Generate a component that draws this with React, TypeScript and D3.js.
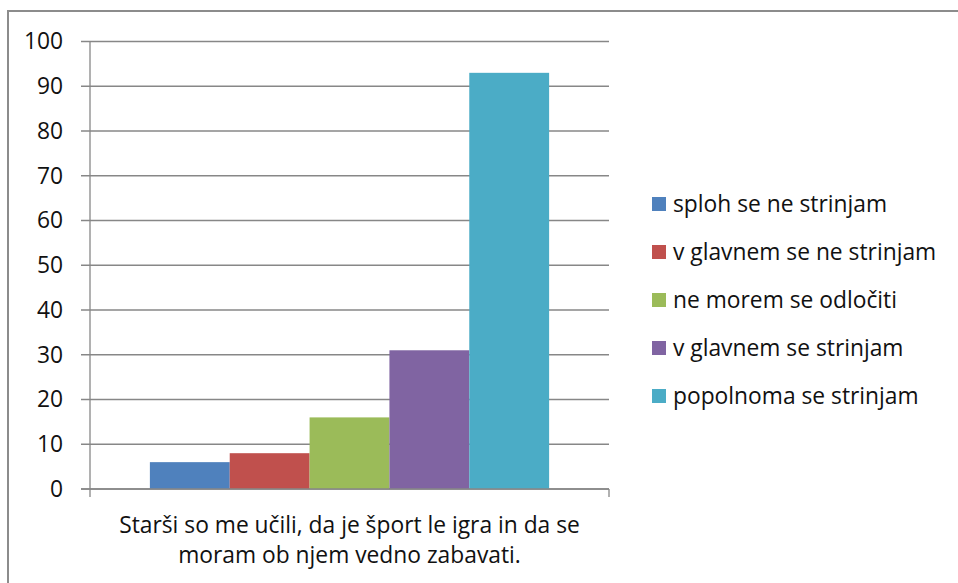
import React, { useEffect, useRef } from "react";
import * as d3 from "d3";

// chart data
const category = "Starši so me učili, da je šport le igra in da se moram ob njem vedno zabavati.";
const categoryLines = ["Starši so me učili, da je šport le igra in da se", "moram ob njem vedno zabavati."];
const seriesNames = [
  "sploh se ne strinjam",
  "v glavnem se ne strinjam",
  "ne morem se odločiti",
  "v glavnem se strinjam",
  "popolnoma se strinjam",
];
const seriesValues = [6, 8, 16, 31, 93];
const seriesColors = ["#4F81BD", "#C0504D", "#9BBB59", "#8064A2", "#4BACC6"];
const yTicks = [0, 10, 20, 30, 40, 50, 60, 70, 80, 90, 100];

const FONT = "'Open Sans', 'Noto Sans', sans-serif";
const FS = 22.8;

export default function App() {
  const svgRef = useRef<SVGSVGElement>(null);

  useEffect(() => {
    const W = 958, H = 583;
    const plot = { left: 90, right: 609, top: 41.5, bottom: 489 };

    const svg = d3.select(svgRef.current).attr("width", W).attr("height", H);
    svg.selectAll("*").remove();

    // outer chart border (only top and left are inside the picture)
    svg.append("rect")
      .attr("x", 8).attr("y", 11)
      .attr("width", W + 20).attr("height", H + 20)
      .attr("fill", "#fff")
      .attr("stroke", "#8c8c8c")
      .attr("stroke-width", 2);

    const y = d3.scaleLinear().domain([0, 100]).range([plot.bottom, plot.top]);
    const x0 = d3.scaleBand().domain([category]).range([plot.left, plot.right]);
    const x1 = d3.scaleBand()
      .domain(seriesNames)
      .range([0, x0.bandwidth()])
      .paddingInner(0)
      .paddingOuter(0.75);

    const g = svg.append("g");

    // gridlines + ticks
    g.selectAll(".grid")
      .data(yTicks)
      .join("line")
      .attr("class", "grid")
      .attr("x1", plot.left - 9)
      .attr("x2", plot.right)
      .attr("y1", (d) => y(d))
      .attr("y2", (d) => y(d))
      .attr("stroke", "#878787")
      .attr("stroke-width", 1.3);

    g.selectAll(".ylab")
      .data(yTicks)
      .join("text")
      .attr("class", "ylab")
      .attr("x", 63)
      .attr("y", (d) => y(d))
      .attr("dy", "0.35em")
      .attr("text-anchor", "end")
      .attr("font-family", FONT)
      .attr("font-size", FS)
      .attr("fill", "#111")
      .text((d) => d);

    // bars
    g.selectAll(".bar")
      .data(seriesValues)
      .join("rect")
      .attr("class", "bar")
      .attr("x", (d, i) => x0(category)! + x1(seriesNames[i])!)
      .attr("y", (d) => y(d))
      .attr("width", x1.bandwidth())
      .attr("height", (d) => y(0) - y(d))
      .attr("fill", (d, i) => seriesColors[i]);

    // axes lines
    g.append("line")
      .attr("x1", plot.left).attr("x2", plot.left)
      .attr("y1", plot.top).attr("y2", plot.bottom + 8)
      .attr("stroke", "#878787").attr("stroke-width", 1.3);
    g.append("line")
      .attr("x1", plot.left - 9).attr("x2", plot.right)
      .attr("y1", plot.bottom).attr("y2", plot.bottom)
      .attr("stroke", "#878787").attr("stroke-width", 1.3);
    g.append("line")
      .attr("x1", plot.right).attr("x2", plot.right)
      .attr("y1", plot.bottom).attr("y2", plot.bottom + 8)
      .attr("stroke", "#878787").attr("stroke-width", 1.3);

    // category label
    const cx = x0(category)! + x0.bandwidth() / 2;
    g.selectAll(".xlab")
      .data(categoryLines)
      .join("text")
      .attr("class", "xlab")
      .attr("x", cx)
      .attr("y", (d, i) => 533 + i * 30)
      .attr("text-anchor", "middle")
      .attr("font-family", FONT)
      .attr("font-size", FS)
      .attr("fill", "#111")
      .text((d) => d);

    // legend
    const legend = g.selectAll(".leg")
      .data(seriesNames)
      .join("g")
      .attr("class", "leg")
      .attr("transform", (d, i) => `translate(652, ${204 + i * 48})`);
    legend.append("rect")
      .attr("x", 0).attr("y", -7)
      .attr("width", 14).attr("height", 14)
      .attr("fill", (d, i) => seriesColors[i]);
    legend.append("text")
      .attr("x", 21)
      .attr("y", 0)
      .attr("dy", "0.35em")
      .attr("font-family", FONT)
      .attr("font-size", FS)
      .attr("fill", "#111")
      .text((d) => d);
  }, []);

  return (
    <svg ref={svgRef} style={{ position: "absolute", left: 0, top: 0 }}></svg>
  );
}
